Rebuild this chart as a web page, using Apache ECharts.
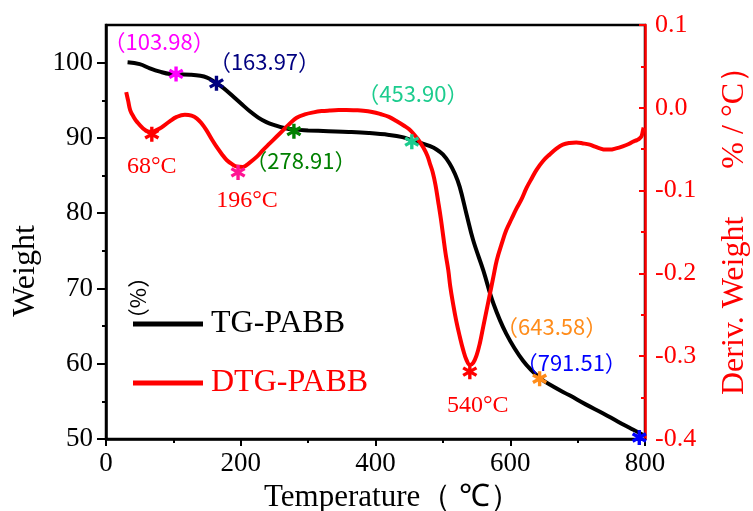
<!DOCTYPE html>
<html>
<head>
<meta charset="utf-8">
<script src="https://cdn.jsdelivr.net/npm/echarts@6/dist/echarts.min.js"></script>
<style>
  html, body { margin: 0; padding: 0; background: #fff; }
  #chart { width: 753px; height: 511px; }
</style>
</head>
<body>
<div id="chart"></div>
<script>
// TG curve: temperature (°C) vs remaining weight (%)
const tgTemp = [32, 50, 65, 80, 95, 110, 125, 140, 150, 160, 170, 180, 190, 200, 214, 226, 238, 250, 263, 280,
  300, 330, 360, 390, 420, 440, 455, 470, 481, 490, 500, 510, 518, 525, 535, 545, 560, 575, 594, 619,
  644, 665, 688, 712, 738, 760, 777, 790, 797];
const tgWeight = [100.05, 99.8, 99.25, 98.8, 98.5, 98.45, 98.4, 98.25, 98.0, 97.5, 96.9, 96.2, 95.4, 94.6, 93.5, 92.7, 92.1, 91.7, 91.35, 91.1,
  91.0, 90.9, 90.8, 90.65, 90.4, 90.1, 89.65, 89.25, 88.9, 88.5, 87.8, 86.6, 85.2, 83.5, 79.9, 76.4, 72.4, 68.0, 64.0, 60.4,
  58.1, 56.9, 55.8, 54.6, 53.4, 52.3, 51.5, 50.9, 50.55];

// DTG curve: temperature (°C) vs derivative weight (%/°C)
const dtgTemp = [30, 33, 36, 41, 46, 55, 62, 68, 75, 82, 95, 105, 117, 127, 135, 142, 149, 157, 164, 172,
  179, 187, 194, 203, 212, 224, 233, 243, 253, 263, 273, 283, 295, 308, 320, 332, 345, 357, 370, 382,
  395, 407, 420, 431, 443, 450, 456, 463, 471, 477, 481, 485, 489, 493, 497, 500.5, 504, 508, 511, 515,
  520, 525, 530, 535, 540, 545, 550, 555, 560, 565, 570, 575, 580, 587, 594, 602, 609, 617, 624, 632,
  639, 649, 659, 669, 678, 688, 698, 708, 718, 726, 733, 741, 748, 757, 767, 775, 782, 788, 792, 795,
  797, 798];
const dtgDeriv = [0.019, 0.008, -0.003, -0.011, -0.017, -0.025, -0.0285, -0.029, -0.027, -0.024, -0.016, -0.011, -0.0085, -0.0095, -0.013, -0.019, -0.027, -0.038, -0.047, -0.056,
  -0.063, -0.068, -0.071, -0.0715, -0.067, -0.059, -0.051, -0.043, -0.035, -0.027, -0.019, -0.012, -0.008, -0.0055, -0.004, -0.0033, -0.0028, -0.0027, -0.003, -0.0035,
  -0.005, -0.0075, -0.011, -0.016, -0.022, -0.026, -0.031, -0.038, -0.048, -0.058, -0.068, -0.078, -0.093, -0.113, -0.134, -0.155, -0.176, -0.196, -0.216, -0.236,
  -0.258, -0.276, -0.292, -0.3045, -0.3105, -0.308, -0.299, -0.284, -0.264, -0.244, -0.224, -0.204, -0.184, -0.165, -0.148, -0.134, -0.122, -0.110, -0.097, -0.085,
  -0.075, -0.064, -0.056, -0.049, -0.0445, -0.0425, -0.042, -0.043, -0.0445, -0.047, -0.049, -0.0505, -0.0505, -0.049, -0.0465, -0.044, -0.041, -0.039, -0.037, -0.034,
  -0.027, -0.024];

// marked points on the TG curve
const tgMarkTemp = [103.98, 163.97, 278.91, 453.90, 643.58, 791.51];
const tgMarkWeight = [98.5, 97.25, 90.9, 89.5, 58.0, 50.2];

// DTG peak points
const dtgPeakTemp = [68, 196, 540];
const dtgPeakDeriv = [-0.032, -0.078, -0.3187];

// axis ticks
const weightTicks = [50, 60, 70, 80, 90, 100];
const weightMinorTicks = [55, 65, 75, 85, 95];

// ---- styling ----
const tgMarkColors = ['#ff00ff', '#000080', '#008000', '#1ccc8e', '#ff8c1a', '#0000ff'];
const tgLabelOffsets = [[-17, -32], [48, -22], [7, 30], [1, -48], [12, -52], [-68, -75]];
const dtgPeakColors = ['#ff0000', '#ff1493', '#ff0000'];
const dtgLabelOffsets = [[0, 32], [9, 28], [8, 34]];

const SERIF = '"Liberation Serif", "Times New Roman", serif';
const SANS_CJK = '"Noto Sans CJK SC", "Noto Sans", sans-serif';

// six-armed asterisk
const STAR = 'path://M-2.2,-10L2.2,-10L2.2,10L-2.2,10Z' +
  'M7.56,-6.91L9.76,-3.09L-7.56,6.91L-9.76,3.09Z' +
  'M9.76,3.09L7.56,6.91L-9.76,-3.09L-7.56,-6.91Z';

const zip = (a, b) => a.map((v, i) => [v, b[i]]);

const tgStars = tgMarkTemp.map((t, i) => ({
  value: [t, tgMarkWeight[i]],
  itemStyle: { color: tgMarkColors[i], opacity: 1 },
  label: {
    show: true, position: 'inside', offset: tgLabelOffsets[i],
    formatter: '（' + t.toFixed(2) + '）',
    color: tgMarkColors[i], opacity: 1, fontSize: 22, fontFamily: SANS_CJK
  }
}));

const dtgStars = dtgPeakTemp.map((t, i) => ({
  value: [t, dtgPeakDeriv[i]],
  itemStyle: { color: dtgPeakColors[i], opacity: 1 },
  label: {
    show: true, position: 'inside', offset: dtgLabelOffsets[i],
    formatter: t + '°C',
    color: '#ff0000', opacity: 1, fontSize: 24, fontFamily: SERIF
  }
}));

const chart = echarts.init(document.getElementById('chart'), null, { renderer: 'canvas' });

chart.setOption({
  backgroundColor: '#fff',
  animation: false,
  grid: {
    left: 106, right: 108, top: 25, bottom: 72,
    outerBoundsMode: 'none', containLabel: false,
    show: true, borderColor: '#000', borderWidth: 2.5, backgroundColor: 'transparent'
  },
  legend: {
    orient: 'vertical', left: 133, top: 308, padding: 0,
    icon: 'rect', itemWidth: 70, itemHeight: 5, itemGap: 27,
    textStyle: { fontSize: 32, fontFamily: SERIF, lineHeight: 32, padding: [0, 0, 0, 3] },
    data: [
      { name: 'TG-PABB', textStyle: { color: '#000' } },
      { name: 'DTG-PABB', textStyle: { color: '#ff0000' } }
    ]
  },
  xAxis: {
    type: 'value', min: 0, max: 800, interval: 200,
    name: 'Temperature（ ℃）', nameLocation: 'middle', nameGap: 41,
    nameTextStyle: { fontSize: 31, fontFamily: SERIF, color: '#000', padding: [0, 0, 0, 34] },
    axisLine: { onZero: false, lineStyle: { color: '#000', width: 2.5 } },
    axisTick: { inside: false, length: 7, lineStyle: { color: '#000', width: 2 } },
    minorTick: { show: true, splitNumber: 2, length: 4, lineStyle: { color: '#000', width: 2 } },
    axisLabel: { fontSize: 27, fontFamily: SERIF, color: '#000', margin: 11 },
    splitLine: { show: false }
  },
  yAxis: [
    {
      type: 'value', min: 50, max: 105, position: 'left',
      name: 'Weight', nameLocation: 'middle', nameGap: 64,
      nameTextStyle: { fontSize: 32, fontFamily: SERIF, color: '#000', padding: [0, 78, 0, 0] },
      axisLine: { show: true, onZero: false, lineStyle: { color: '#000', width: 2.5 } },
      axisTick: { show: true, inside: false, length: 9, customValues: weightTicks, lineStyle: { color: '#000', width: 2 } },
      axisLabel: { fontSize: 27, fontFamily: SERIF, color: '#000', margin: 13, customValues: weightTicks },
      splitLine: { show: false }
    },
    {
      type: 'value', min: -0.4, max: 0.1, interval: 0.1, position: 'right',
      name: 'Deriv. Weight      % / °C）', nameLocation: 'middle', nameGap: 74,
      nameTextStyle: { fontSize: 32, fontFamily: SERIF, color: '#ff0000', padding: [0, 0, 0, 18] },
      axisLine: { show: true, onZero: false, lineStyle: { color: '#ff0000', width: 2.5 } },
      axisTick: { show: true, inside: true, length: 6, lineStyle: { color: '#ff0000', width: 2 } },
      minorTick: { show: true, splitNumber: 2, length: 4, lineStyle: { color: '#ff0000', width: 2 } },
      axisLabel: {
        fontSize: 26, fontFamily: SERIF, color: '#ff0000', margin: 10,
        formatter: v => (Math.abs(v) < 1e-9 ? '0.0' : v.toFixed(1))
      },
      splitLine: { show: false }
    },
    {
      // minor ticks of the weight axis
      type: 'value', min: 50, max: 105, position: 'left',
      axisLine: { show: false, onZero: false },
      axisTick: { show: true, inside: false, length: 4, customValues: weightMinorTicks, lineStyle: { color: '#000', width: 2 } },
      axisLabel: { show: false },
      splitLine: { show: false }
    }
  ],
  graphic: [
    {
      type: 'text', x: 138, y: 298, rotation: Math.PI / 2,
      style: { text: '（%）', font: '22px ' + SANS_CJK, fill: '#000', align: 'center', verticalAlign: 'middle' }
    }
  ],
  series: [
    {
      name: 'TG-PABB', type: 'line', yAxisIndex: 0,
      data: zip(tgTemp, tgWeight), smooth: 0.4, symbol: 'none',
      lineStyle: { color: '#000', width: 4 }, itemStyle: { color: '#000' }, z: 3
    },
    {
      name: 'DTG-PABB', type: 'line', yAxisIndex: 1,
      data: zip(dtgTemp, dtgDeriv), smooth: 0.4, symbol: 'none',
      lineStyle: { color: '#ff0000', width: 4 }, itemStyle: { color: '#ff0000' }, z: 4
    },
    {
      name: 'TG marks', type: 'scatter', yAxisIndex: 0,
      symbol: STAR, symbolSize: 15, data: tgStars, z: 6
    },
    {
      name: 'DTG peaks', type: 'scatter', yAxisIndex: 1,
      symbol: STAR, symbolSize: 15, data: dtgStars, z: 6
    }
  ]
});
</script>
</body>
</html>
